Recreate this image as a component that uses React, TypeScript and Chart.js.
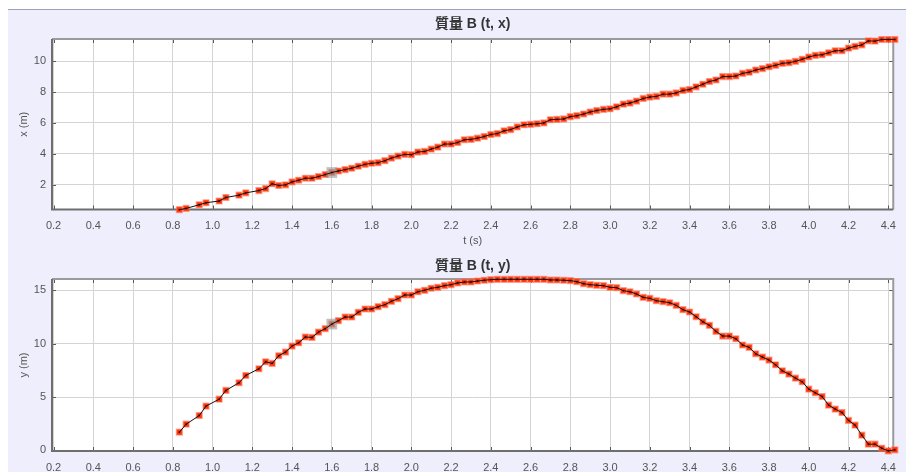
import React, { useEffect, useRef } from "react";
import { Chart, registerables } from "chart.js";

Chart.register(...registerables);

// time (s) of each tracked frame
const times = [
  0.833, 0.867, 0.933, 0.967, 1.033, 1.067, 1.133, 1.167,
  1.233, 1.267, 1.3, 1.333, 1.367, 1.4, 1.433, 1.467, 1.5, 1.533, 1.567, 1.6, 1.633, 1.667, 1.7, 1.733, 1.767, 1.8, 1.833, 1.867, 1.9, 1.933, 1.967, 2.0,
  2.033, 2.067, 2.1, 2.133, 2.167, 2.2, 2.233, 2.267, 2.3, 2.333, 2.367, 2.4, 2.433, 2.467, 2.5, 2.533, 2.567, 2.6, 2.633, 2.667, 2.7, 2.733, 2.767, 2.8, 2.833, 2.867, 2.9, 2.933, 2.967, 3.0,
  3.033, 3.067, 3.1, 3.133, 3.167, 3.2, 3.233, 3.267, 3.3, 3.333, 3.367, 3.4, 3.433, 3.467, 3.5, 3.533, 3.567, 3.6, 3.633, 3.667, 3.7, 3.733, 3.767, 3.8, 3.833, 3.867, 3.9, 3.933, 3.967, 4.0,
  4.033, 4.067, 4.1, 4.133, 4.167, 4.2, 4.233, 4.267, 4.3, 4.333, 4.367, 4.4, 4.433,
];

// x (m)
const xPos = [
  0.37, 0.45, 0.69, 0.82, 0.93, 1.16, 1.31, 1.46,
  1.61, 1.74, 2.05, 1.94, 1.98, 2.17, 2.28, 2.41, 2.41, 2.52, 2.65, 2.78, 2.88, 2.97, 3.06, 3.19, 3.31, 3.38, 3.42, 3.55, 3.72, 3.85, 3.96, 3.94,
  4.11, 4.15, 4.3, 4.43, 4.63, 4.63, 4.73, 4.91, 4.93, 5.01, 5.12, 5.25, 5.31, 5.49, 5.57, 5.74, 5.88, 5.91, 5.95, 6.0, 6.21, 6.23, 6.26, 6.41, 6.47, 6.58, 6.71, 6.81, 6.88, 6.92,
  7.05, 7.22, 7.29, 7.42, 7.59, 7.68, 7.72, 7.87, 7.87, 7.95, 8.11, 8.17, 8.34, 8.51, 8.69, 8.79, 9.01, 9.01, 9.05, 9.22, 9.29, 9.44, 9.53, 9.65, 9.74, 9.87, 9.91, 10.0, 10.13, 10.28,
  10.39, 10.43, 10.56, 10.69, 10.69, 10.86, 10.97, 11.07, 11.33, 11.31, 11.42, 11.42, 11.42,
];

// y (m)
const yPos = [
  1.71, 2.46, 3.27, 4.15, 4.8, 5.62, 6.34, 7.02,
  7.65, 8.3, 8.15, 8.87, 9.21, 9.77, 10.08, 10.62, 10.58, 11.08, 11.4, 11.83, 12.15, 12.49, 12.49, 12.93, 13.24, 13.24, 13.46, 13.65, 13.96, 14.21, 14.55, 14.55,
  14.86, 14.99, 15.18, 15.27, 15.43, 15.52, 15.68, 15.77, 15.77, 15.86, 15.93, 15.99, 16.02, 16.02, 16.02, 16.02, 16.02, 16.02, 16.02, 16.02, 15.96, 15.96, 15.93, 15.9, 15.8, 15.61, 15.52, 15.46, 15.43, 15.27,
  15.24, 14.96, 14.86, 14.65, 14.33, 14.24, 14.02, 13.93, 13.83, 13.58, 13.18, 12.96, 12.52, 12.05, 11.71, 11.15, 10.71, 10.71, 10.46, 9.87, 9.65, 9.05, 8.74, 8.46, 8.02, 7.46, 7.15, 6.77, 6.43, 5.74,
  5.4, 5.05, 4.24, 3.87, 3.55, 2.81, 2.37, 1.43, 0.59, 0.59, 0.21, -0.04, 0.06,
];

const timeTicks = [0.2, 0.4, 0.6, 0.8, 1.0, 1.2, 1.4, 1.6, 1.8, 2.0, 2.2, 2.4, 2.6, 2.8, 3.0, 3.2, 3.4, 3.6, 3.8, 4.0, 4.2, 4.4];
const xPosTicks = [2, 4, 6, 8, 10];
const yPosTicks = [0, 5, 10, 15];

const selectedTime = 1.6;

const titleX = "質量 B (t, x)";
const titleY = "質量 B (t, y)";
const timeLabel = "t (s)";
const xLabel = "x (m)";
const yLabel = "y (m)";

const FONT = '"Liberation Sans", "Noto Sans CJK JP", sans-serif';
const TICK_COLOR = "#555555";

const framePlugin = {
  id: "frame",
  beforeDraw(chart: any) {
    const { ctx, chartArea: a } = chart;
    ctx.save();
    ctx.fillStyle = "#ffffff";
    ctx.fillRect(a.left, a.top, a.right - a.left, a.bottom - a.top);
    ctx.restore();
  },
  beforeDatasetsDraw(chart: any) {
    const { ctx, chartArea: a, scales } = chart;
    ctx.save();
    ctx.strokeStyle = "#5a5a5a";
    ctx.lineWidth = 1;
    ctx.beginPath();
    scales.x.ticks.forEach((t: any) => {
      const px = Math.round(scales.x.getPixelForValue(t.value)) + 0.5;
      ctx.moveTo(px, a.top);
      ctx.lineTo(px, a.top + 4);
      ctx.moveTo(px, a.bottom);
      ctx.lineTo(px, a.bottom - 4);
    });
    scales.y.ticks.forEach((t: any) => {
      const py = Math.round(scales.y.getPixelForValue(t.value)) + 0.5;
      ctx.moveTo(a.left, py);
      ctx.lineTo(a.left + 4, py);
      ctx.moveTo(a.right, py);
      ctx.lineTo(a.right - 4, py);
    });
    ctx.stroke();
    ctx.lineWidth = 2;
    ctx.strokeStyle = "#9a9a9a";
    ctx.beginPath();
    ctx.moveTo(a.left, a.top);
    ctx.lineTo(a.right, a.top);
    ctx.lineTo(a.right, a.bottom);
    ctx.stroke();
    ctx.strokeStyle = "#6e6e6e";
    ctx.beginPath();
    ctx.moveTo(a.left, a.top);
    ctx.lineTo(a.left, a.bottom);
    ctx.lineTo(a.right, a.bottom);
    ctx.stroke();
    ctx.restore();
  },
  afterDraw(chart: any, _args: any, opts: any) {
    const { ctx, chartArea: a } = chart;
    const cx = (a.left + a.right) / 2;
    const cy = (a.top + a.bottom) / 2;
    ctx.save();
    ctx.textAlign = "center";
    ctx.textBaseline = "middle";
    ctx.fillStyle = "#333333";
    ctx.font = `bold 14px ${FONT}`;
    ctx.fillText(opts.title, cx, a.top - opts.titleGap);
    ctx.fillStyle = "#555555";
    ctx.font = `11px ${FONT}`;
    if (opts.xTitle) ctx.fillText(opts.xTitle, cx, a.bottom + 31.5);
    ctx.translate(16, cy);
    ctx.rotate(-Math.PI / 2);
    ctx.fillText(opts.yTitle, 0, 0);
    ctx.restore();
  },
};

function buildConfig(values: number[], yTicks: number[], yMin: number, yMax: number, title: string, xTitle: string, yTitle: string, xHeight: number, titleGap: number) {
  const pts = times.map((t, i) => ({ x: t, y: values[i] }));
  const selIdx = times.indexOf(selectedTime);
  const sel = [{ x: times[selIdx], y: values[selIdx] }];
  return {
    type: "scatter" as const,
    data: {
      datasets: [
        {
          data: pts,
          showLine: true,
          borderColor: "#111111",
          borderWidth: 1,
          pointStyle: "rect",
          pointRadius: 1,
          pointBackgroundColor: "#000000",
          pointBorderWidth: 0,
          clip: false,
          order: 0,
        },
        {
          data: sel,
          showLine: false,
          pointStyle: "rect",
          pointRadius: 7.6,
          pointBackgroundColor: "rgba(150,150,150,0.6)",
          pointBorderWidth: 0,
          clip: false,
          order: 1,
        },
        {
          data: pts,
          showLine: false,
          pointStyle: "rect",
          pointRadius: 4,
          pointBackgroundColor: "#ff3300",
          pointBorderColor: "rgba(255,110,90,0.55)",
          pointBorderWidth: 1.5,
          clip: false,
          order: 2,
        },
      ],
    },
    options: {
      responsive: false,
      animation: false as const,
      events: [],
      layout: { padding: { top: 29, right: 12, left: 0, bottom: 0 } },
      plugins: {
        legend: { display: false },
        tooltip: { enabled: false },
        frame: { title, xTitle, yTitle, titleGap },
      },
      scales: {
        x: {
          type: "linear" as const,
          min: 0.192,
          max: 4.425,
          afterBuildTicks: (s: any) => {
            s.ticks = timeTicks.map((v) => ({ value: v }));
          },
          afterFit: (s: any) => {
            s.height = xHeight;
          },
          grid: { color: "#d4d4d4", lineWidth: 1, drawTicks: false },
          border: { display: false },
          ticks: {
            autoSkip: false,
            maxRotation: 0,
            padding: 10,
            color: TICK_COLOR,
            font: { size: 11, family: FONT },
            callback: (v: any) => Number(v).toFixed(1),
          },
        },
        y: {
          type: "linear" as const,
          min: yMin,
          max: yMax,
          afterBuildTicks: (s: any) => {
            s.ticks = yTicks.map((v) => ({ value: v }));
          },
          afterFit: (s: any) => {
            s.width = 44;
          },
          grid: { color: "#d4d4d4", lineWidth: 1, drawTicks: false },
          border: { display: false },
          ticks: {
            autoSkip: false,
            padding: 6,
            color: TICK_COLOR,
            font: { size: 11, family: FONT },
            callback: (v: any) => String(v),
          },
        },
      },
    },
    plugins: [framePlugin],
  };
}

export default function App() {
  const topRef = useRef<HTMLCanvasElement>(null);
  const botRef = useRef<HTMLCanvasElement>(null);

  useEffect(() => {
    const c1 = new Chart(
      topRef.current as HTMLCanvasElement,
      buildConfig(xPos, xPosTicks, 0.38, 11.45, titleX, timeLabel, xLabel, 40.5, 15) as any
    );
    const c2 = new Chart(
      botRef.current as HTMLCanvasElement,
      buildConfig(yPos, yPosTicks, -0.05, 16.05, titleY, "", yLabel, 21, 13) as any
    );
    return () => {
      c1.destroy();
      c2.destroy();
    };
  }, []);

  return (
    <div
      style={{
        position: "fixed",
        left: 8,
        top: 9,
        width: 898,
        height: 463,
        background: "#eeeefc",
        borderTop: "1px solid #9aa3b5",
        boxSizing: "border-box",
        overflow: "hidden",
      }}
    >
      <canvas ref={topRef} width={898} height={240} style={{ position: "absolute", left: 0, top: 0, display: "block" }} />
      <canvas ref={botRef} width={898} height={222} style={{ position: "absolute", left: 0, top: 240, display: "block" }} />
    </div>
  );
}
